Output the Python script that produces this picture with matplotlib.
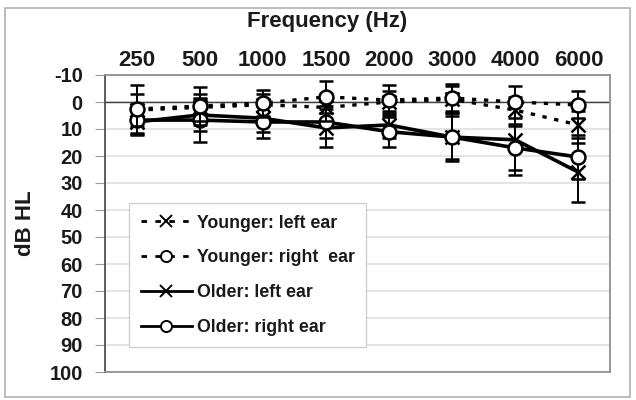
import matplotlib.pyplot as plt
import matplotlib.patches as mpatches
from matplotlib.lines import Line2D
import numpy as np

plt.rcParams['font.family'] = ['Liberation Sans', 'DejaVu Sans']
plt.rcParams['font.weight'] = 'bold'
plt.rcParams['axes.unicode_minus'] = False

# frequencies (categories)
freqs = ['250', '500', '1000', '1500', '2000', '3000', '4000', '6000']

# mean thresholds (dB HL)
young_left = [3, 2, 1, 2, 0, -1, 3, 8.5]
young_right = [2.6, 1.5, 0.4, -1.9, -0.7, -1.5, 0, 1.1]
old_left = [7.4, 4.8, 6, 9.6, 8.5, 13, 14, 26]
old_right = [6.7, 6.7, 7.4, 7.4, 11, 13, 17, 20.4]

# standard deviations
young_left_sd = [6, 5, 4, 5, 4, 5, 5, 5]
young_right_sd = [9, 7, 5, 6, 5.5, 5, 6, 5]
old_left_sd = [5, 6, 5, 7, 5, 8, 13, 11]
old_right_sd = [5, 8, 6, 6, 5.5, 9, 8, 8]

x = np.arange(len(freqs))

fig = plt.figure(figsize=(6.36, 4.0), dpi=100)
ax = fig.add_axes([105/636, 1-372/400, 505/636, 297/400])

# outer chart border
fig.patches.append(mpatches.Rectangle((5/636, 3/400), 625/636, 389/400, transform=fig.transFigure,
                                      fill=False, edgecolor='#b0b0b0', linewidth=1.2))

dash = (0, (1.3, 2.3))
common = dict(color='black', ecolor='black', elinewidth=1.4, capsize=5, capthick=1.6,
              markersize=10, markeredgewidth=1.8)

ax.errorbar(x, old_left, yerr=old_left_sd, marker='x', linestyle='-', linewidth=2.6, zorder=3, **common)
ax.errorbar(x, old_right, yerr=old_right_sd, marker='o', markerfacecolor='white', linestyle='-',
            linewidth=2.6, zorder=3, **common)
ax.errorbar(x, young_left, yerr=young_left_sd, marker='x', linestyle=dash, linewidth=2.4, zorder=4, **common)
ax.errorbar(x, young_right, yerr=young_right_sd, marker='o', markerfacecolor='white', linestyle=dash,
            linewidth=2.4, zorder=4, **common)

ax.axhline(0, color='#404040', linewidth=1.0, zorder=2)

ax.set_xlim(-0.5, len(freqs) - 0.5)
ax.set_ylim(100, -10)
ax.set_yticks(np.arange(-10, 101, 10))
ax.set_xticks(x)
ax.set_xticklabels(freqs)
ax.xaxis.tick_top()
ax.tick_params(axis='x', length=0, labelsize=16, pad=3)
ax.tick_params(axis='y', length=7, color='#999999', labelsize=14.5, pad=9)
for lbl in ax.get_xticklabels() + ax.get_yticklabels():
    lbl.set_fontweight('bold')
    lbl.set_color('#1a1a1a')

ax.yaxis.grid(True, color='#e4e4e4', linewidth=1.5)
ax.set_axisbelow(True)
for s in ['top', 'right', 'bottom']:
    ax.spines[s].set_color('#909090')
    ax.spines[s].set_linewidth(1.3)
ax.spines['left'].set_color('#505050')
ax.spines['left'].set_linewidth(1.3)

ax.set_ylabel('dB HL', fontsize=16, fontweight='bold', color='#1a1a1a', labelpad=10)
fig.text(327/636, 1-22/400, 'Frequency (Hz)', ha='center', va='center', fontsize=16,
         fontweight='bold', color='#1a1a1a')

leg_dash = (0, (2.0, 3.0))
handles = [
    Line2D([], [], color='black', marker='x', markersize=9, markeredgewidth=1.4, linestyle=leg_dash, linewidth=2),
    Line2D([], [], color='black', marker='o', markersize=8, markeredgewidth=1.4, markerfacecolor='white',
           linestyle=leg_dash, linewidth=2),
    Line2D([], [], color='black', marker='x', markersize=9, markeredgewidth=1.4, linestyle='-', linewidth=2),
    Line2D([], [], color='black', marker='o', markersize=8, markeredgewidth=1.4, markerfacecolor='white',
           linestyle='-', linewidth=2),
]
labels = ['Younger: left ear', 'Younger: right  ear', 'Older: left ear', 'Older: right ear']
leg = ax.legend(handles, labels,
                loc='upper left', bbox_to_anchor=(24/505, 169/297), borderaxespad=0,
                fontsize=12.8, handlelength=2.9, handletextpad=0.25, labelspacing=1.0,
                borderpad=0.65, fancybox=False, framealpha=1, edgecolor='#d0d0d0')
for t in leg.get_texts():
    t.set_fontweight('bold')
    t.set_color('#1a1a1a')

fig.savefig('out.png', dpi=100)
